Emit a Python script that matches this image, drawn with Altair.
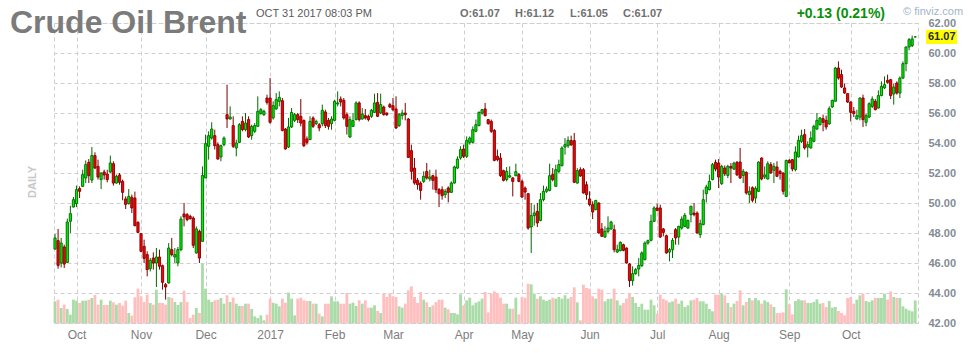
import json
import altair as alt
import pandas as pd

# ---------------- data ----------------
opens = [46.93, 47.49, 46.00, 47.07, 46.04, 48.78, 49.73, 49.96, 50.96, 51.11,
         51.67, 52.71, 51.53, 53.16, 52.44, 51.56, 52.07, 51.93, 52.07, 52.62,
         51.33, 51.87, 51.44, 50.27, 49.96, 50.38, 50.33, 48.71, 47.96, 47.11,
         46.56, 45.62, 46.33, 46.00, 46.40, 45.82, 44.56, 44.67, 46.89, 46.40,
         46.00, 46.89, 49.27, 49.22, 49.11, 49.00, 46.67, 48.11, 47.44, 51.67,
         53.78, 54.33, 54.49, 53.89, 53.07, 53.89, 55.89, 55.60, 55.16, 53.67,
         54.04, 55.44, 54.89, 55.56, 54.49, 54.78, 55.11, 55.96, 55.89, 57.00,
         57.00, 55.67, 56.27, 56.78, 56.82, 54.93, 53.73, 55.07, 55.51, 55.89,
         55.78, 55.51, 54.27, 54.22, 55.67, 55.29, 55.22, 55.29, 56.07, 55.51,
         55.29, 55.51, 56.60, 56.93, 56.84, 55.89, 54.40, 55.11, 55.56, 56.67,
         55.60, 55.82, 55.78, 55.78, 56.04, 56.71, 56.00, 56.40, 56.00, 56.56,
         56.49, 56.27, 55.16, 55.84, 56.00, 55.60, 53.49, 52.33, 51.51, 51.33,
         51.44, 52.11, 51.60, 51.82, 51.73, 50.89, 50.89, 50.56, 51.00, 50.71,
         51.33, 52.33, 53.00, 53.60, 53.11, 54.04, 54.04, 54.78, 55.16, 56.00,
         56.27, 55.56, 55.44, 54.84, 53.11, 53.00, 52.16, 51.56, 51.73, 51.67,
         51.82, 51.89, 51.44, 51.00, 50.62, 48.40, 49.16, 49.44, 48.84, 50.22,
         50.78, 50.84, 51.89, 51.11, 52.11, 52.49, 53.73, 53.82, 54.16, 54.16,
         51.33, 52.22, 52.22, 51.22, 50.27, 49.89, 49.56, 50.00, 48.27, 47.73,
         48.11, 48.27, 48.22, 46.73, 46.82, 47.22, 47.00, 45.93, 44.82, 45.29,
         45.60, 45.82, 46.22, 47.33, 47.51, 48.78, 49.67, 49.67, 48.27, 47.82,
         46.73, 46.89, 48.22, 47.73, 48.33, 48.44, 48.33, 49.22, 49.33, 49.33,
         47.89, 48.56, 50.62, 50.89, 51.56, 52.71, 52.67, 51.29, 52.33, 51.84,
         52.44, 52.26, 52.71, 52.73, 51.84, 52.04, 50.56, 51.02, 50.33, 50.78,
         53.00, 51.73, 51.60, 52.56, 52.18, 52.40, 52.11, 52.00, 50.44, 52.84,
         52.89, 52.22, 53.07, 54.11, 54.56, 53.73, 53.67, 54.11, 54.93, 55.22,
         55.62, 55.51, 55.27, 56.40, 56.78, 59.00, 58.56, 57.67, 57.29, 56.73,
         56.11, 55.60, 55.73, 57.00, 55.38, 55.73, 56.44, 56.78, 56.33, 57.16,
         57.67, 58.18, 58.22, 57.27, 58.00, 57.33, 58.33, 59.29, 60.40, 60.49,
         61.07]
highs = [47.93, 48.27, 47.67, 47.22, 48.96, 49.82, 50.40, 51.16, 51.11, 52.22,
         52.84, 52.93, 53.73, 53.38, 52.89, 52.04, 52.22, 52.22, 53.16, 52.78,
         51.89, 52.00, 51.56, 50.44, 50.93, 50.56, 50.76, 48.78, 48.00, 47.56,
         46.78, 46.33, 46.71, 47.00, 46.89, 45.89, 44.67, 47.33, 47.67, 47.00,
         47.07, 49.11, 50.00, 49.33, 49.22, 49.11, 48.44, 48.22, 52.44, 54.56,
         54.78, 55.38, 54.89, 54.04, 53.89, 54.44, 57.89, 56.44, 55.78, 54.22,
         55.33, 55.78, 56.00, 55.78, 55.22, 55.33, 57.11, 56.33, 56.22, 57.22,
         58.33, 56.78, 57.33, 57.44, 57.00, 55.00, 55.67, 56.33, 56.00, 56.00,
         56.93, 55.56, 54.44, 55.78, 55.78, 55.56, 55.33, 56.56, 56.22, 55.67,
         55.78, 56.89, 57.44, 57.11, 57.00, 56.04, 55.78, 56.00, 56.78, 56.78,
         56.33, 56.27, 55.89, 56.27, 57.29, 57.33, 57.29, 56.49, 56.04, 56.67,
         57.00, 57.11, 56.00, 56.22, 56.67, 55.67, 53.89, 53.00, 51.67, 51.44,
         52.11, 52.67, 52.22, 51.89, 52.22, 51.00, 51.11, 50.93, 51.11, 51.44,
         52.49, 53.11, 53.78, 53.89, 54.44, 54.44, 55.11, 55.56, 56.11, 56.27,
         56.67, 55.60, 55.56, 54.93, 53.56, 53.33, 52.22, 52.40, 52.44, 51.73,
         52.62, 52.00, 51.56, 51.11, 50.67, 50.00, 49.89, 50.00, 50.67, 51.16,
         51.11, 52.62, 52.33, 52.56, 52.89, 53.78, 54.33, 54.44, 54.49, 54.67,
         52.33, 52.38, 52.33, 51.44, 50.78, 50.11, 50.22, 50.04, 48.67, 48.44,
         49.11, 48.82, 48.56, 47.22, 47.44, 47.29, 47.04, 46.00, 45.78, 45.67,
         46.33, 46.78, 47.44, 47.56, 49.22, 49.78, 49.96, 49.89, 48.33, 47.89,
         47.00, 47.67, 48.33, 48.49, 49.11, 49.33, 48.89, 49.82, 50.00, 49.44,
         48.89, 50.89, 51.22, 51.89, 52.67, 52.89, 52.93, 52.55, 52.50, 52.55,
         52.66, 52.75, 52.80, 53.67, 52.27, 52.11, 51.11, 51.11, 51.11, 52.78,
         53.04, 52.44, 52.78, 52.73, 52.67, 52.78, 52.22, 52.04, 52.89, 52.93,
         52.93, 53.78, 54.49, 54.89, 54.93, 54.11, 54.78, 55.22, 56.00, 55.73,
         55.89, 55.82, 56.44, 56.89, 59.07, 59.44, 58.89, 57.96, 57.33, 56.78,
         56.40, 56.22, 57.04, 57.22, 55.96, 56.71, 57.11, 56.93, 57.51, 58.11,
         58.44, 58.56, 58.27, 57.96, 58.11, 58.44, 59.44, 60.44, 61.00, 61.16,
         61.12]
lows = [46.89, 45.62, 45.71, 45.67, 46.00, 48.00, 49.71, 49.73, 50.33, 51.07,
        51.33, 51.33, 51.33, 52.27, 51.56, 50.93, 51.56, 51.38, 52.00, 51.16,
        51.29, 51.22, 50.18, 49.60, 49.89, 49.33, 48.44, 48.00, 46.71, 46.00,
        45.11, 45.44, 45.56, 44.40, 45.56, 44.22, 43.56, 44.62, 46.44, 46.00,
        45.78, 46.78, 48.44, 48.78, 48.89, 47.00, 46.62, 46.00, 47.44, 51.67,
        52.89, 54.22, 53.56, 52.89, 52.78, 53.78, 55.00, 55.56, 53.67, 53.11,
        54.00, 54.78, 54.78, 54.33, 54.22, 54.67, 55.11, 55.89, 55.80, 56.56,
        55.29, 55.56, 56.22, 56.44, 54.78, 53.56, 53.67, 55.00, 55.40, 55.33,
        55.11, 53.73, 53.89, 54.22, 55.00, 55.20, 54.78, 55.11, 55.00, 54.89,
        54.89, 55.44, 56.44, 56.44, 55.56, 54.56, 54.33, 55.07, 55.51, 55.44,
        55.56, 55.56, 55.44, 55.67, 56.00, 55.73, 55.93, 55.82, 55.80, 56.33,
        56.11, 54.93, 55.07, 55.56, 55.51, 53.00, 51.56, 51.22, 50.89, 50.22,
        51.33, 51.56, 51.44, 50.89, 50.67, 49.73, 50.22, 50.33, 50.04, 50.67,
        51.29, 52.27, 52.89, 53.00, 53.00, 53.89, 53.96, 54.71, 55.11, 55.89,
        55.78, 55.22, 54.67, 52.78, 52.78, 51.73, 51.44, 51.44, 51.67, 50.44,
        51.78, 51.38, 50.33, 50.22, 48.22, 46.67, 48.49, 48.40, 48.78, 50.11,
        50.67, 50.78, 51.44, 51.07, 52.00, 52.44, 53.22, 53.67, 53.82, 51.33,
        51.29, 51.75, 50.62, 50.22, 49.78, 48.93, 49.51, 47.96, 47.73, 47.67,
        48.00, 48.22, 46.71, 46.67, 46.78, 46.78, 45.96, 44.40, 44.49, 45.22,
        45.11, 45.73, 46.18, 47.22, 47.44, 48.73, 49.44, 47.67, 47.78, 46.62,
        46.11, 46.33, 47.22, 47.22, 48.22, 48.40, 48.27, 48.71, 49.11, 47.96,
        47.67, 48.51, 50.04, 50.84, 51.51, 52.11, 51.00, 51.20, 51.80, 51.66,
        51.33, 52.20, 51.80, 51.60, 51.33, 50.56, 50.00, 50.04, 50.00, 50.73,
        51.51, 51.60, 51.56, 51.96, 51.33, 51.73, 51.56, 50.56, 50.40, 52.67,
        52.11, 52.11, 53.04, 54.00, 53.56, 53.04, 53.62, 54.04, 54.89, 55.16,
        54.78, 54.89, 55.22, 56.33, 56.78, 58.22, 57.67, 57.29, 56.67, 55.44,
        55.73, 55.56, 55.51, 55.07, 55.11, 55.67, 56.33, 56.18, 56.29, 57.11,
        57.60, 57.96, 56.93, 56.56, 57.22, 57.00, 58.27, 58.78, 60.18, 60.40,
        61.05]
closes = [47.67, 45.84, 47.33, 45.93, 48.73, 49.29, 50.22, 50.89, 50.78, 51.89,
          52.56, 51.82, 53.16, 52.33, 51.73, 52.00, 51.87, 51.56, 52.67, 51.33,
          51.78, 51.38, 50.71, 49.91, 50.44, 49.67, 48.49, 48.04, 46.78, 46.31,
          45.56, 46.18, 46.00, 46.40, 45.78, 44.71, 44.40, 47.00, 46.56, 46.56,
          46.89, 48.93, 49.07, 48.89, 48.96, 47.18, 48.27, 46.33, 51.84, 53.96,
          54.49, 54.93, 53.82, 52.93, 53.82, 54.33, 55.60, 55.73, 53.78, 54.00,
          55.22, 54.89, 55.33, 54.40, 55.11, 55.16, 56.11, 56.22, 56.11, 56.71,
          55.38, 56.49, 56.89, 57.04, 54.84, 53.60, 55.07, 56.04, 55.89, 55.56,
          55.33, 53.82, 54.04, 55.44, 55.11, 55.44, 55.00, 56.18, 55.16, 55.11,
          55.60, 56.78, 56.67, 56.73, 55.67, 55.11, 55.56, 55.49, 56.67, 55.56,
          55.93, 55.67, 55.56, 56.18, 56.67, 55.78, 56.56, 55.89, 55.89, 56.40,
          56.22, 55.00, 55.89, 56.00, 55.89, 53.04, 52.11, 51.33, 51.22, 50.84,
          51.78, 51.67, 51.73, 51.51, 50.89, 50.62, 50.49, 50.78, 50.71, 51.33,
          52.40, 52.93, 53.56, 53.11, 54.18, 54.33, 54.89, 55.22, 56.04, 56.22,
          55.82, 55.29, 54.78, 52.84, 52.89, 51.82, 51.51, 52.11, 51.82, 51.44,
          52.09, 51.44, 50.40, 50.73, 48.33, 49.16, 49.33, 48.67, 50.22, 50.78,
          50.93, 51.82, 51.56, 52.22, 52.56, 53.67, 53.89, 54.18, 53.87, 51.38,
          52.16, 51.80, 50.67, 50.56, 49.89, 49.40, 50.16, 48.00, 47.78, 48.11,
          48.33, 48.73, 46.89, 46.89, 47.38, 46.84, 46.00, 44.82, 45.29, 45.56,
          45.84, 46.67, 47.33, 47.49, 48.78, 49.67, 49.51, 47.73, 48.04, 46.67,
          46.89, 47.51, 47.67, 48.44, 48.93, 49.18, 48.84, 49.78, 49.22, 48.00,
          48.62, 50.22, 51.07, 51.44, 52.56, 52.26, 51.73, 52.44, 51.95, 52.44,
          52.33, 52.66, 51.88, 51.67, 52.11, 50.67, 50.78, 50.18, 50.98, 52.73,
          51.60, 51.87, 52.62, 52.00, 52.44, 51.78, 51.96, 50.78, 52.84, 52.67,
          52.27, 53.40, 54.18, 54.49, 53.67, 53.89, 54.33, 55.11, 55.51, 55.67,
          55.38, 55.07, 56.29, 56.84, 59.00, 58.33, 57.73, 57.33, 56.73, 56.04,
          55.96, 55.82, 57.00, 55.56, 55.82, 56.62, 56.93, 56.22, 57.16, 57.78,
          57.89, 58.04, 57.16, 57.73, 57.33, 58.33, 59.29, 60.40, 60.89, 60.94,
          61.07]
volumes = [65, 70, 45, 55, 42, 25, 70, 67, 60, 67,
           67, 70, 75, 84, 55, 70, 54, 54, 67, 62,
           55, 60, 52, 67, 30, 22, 77, 103, 80, 63,
           85, 60, 55, 100, 60, 60, 55, 78, 75, 63,
           54, 63, 97, 63, 15, 25, 45, 30, 178, 103,
           70, 63, 68, 70, 75, 58, 83, 63, 76, 58,
           51, 51, 58, 58, 42, 20, 15, 23, 8, 25,
           73, 61, 58, 50, 73, 61, 91, 73, 23, 73,
           76, 68, 66, 66, 58, 58, 28, 20, 58, 58,
           80, 65, 65, 58, 58, 90, 58, 61, 51, 68,
           58, 68, 46, 46, 53, 36, 30, 88, 78, 90,
           80, 78, 50, 46, 58, 98, 110, 78, 60, 93,
           70, 62, 48, 53, 63, 70, 70, 46, 41, 30,
           30, 26, 86, 53, 68, 76, 53, 61, 65, 73,
           93, 32, 88, 95, 90, 76, 58, 58, 43, 43,
           76, 26, 78, 76, 118, 116, 88, 73, 80, 70,
           66, 70, 76, 73, 78, 73, 83, 73, 78, 107,
           62, 8, 115, 105, 103, 80, 73, 103, 100, 65,
           72, 73, 103, 68, 53, 60, 73, 90, 78, 60,
           48, 58, 40, 40, 70, 53, 28, 85, 72, 68,
           62, 65, 73, 58, 67, 48, 53, 68, 70, 75,
           65, 65, 58, 42, 35, 85, 85, 88, 83, 60,
           48, 58, 66, 98, 53, 63, 75, 68, 75, 68,
           58, 68, 63, 56, 48, 30, 30, 32, 101, 56,
           26, 66, 71, 68, 68, 60, 60, 63, 71, 58,
           60, 48, 66, 46, 48, 36, 30, 23, 75, 78,
           58, 70, 83, 88, 66, 63, 68, 75, 75, 75,
           88, 70, 95, 78, 75, 75, 50, 43, 38, 35,
           68]

holidays = ["2016-11-24", "2016-12-26", "2017-01-02", "2017-02-20",
            "2017-04-14", "2017-05-29", "2017-07-04", "2017-09-04"]
month_labels = ["Oct", "Nov", "Dec", "2017", "Feb", "Mar", "Apr", "May",
                "Jun", "Jul", "Aug", "Sep", "Oct"]
price_ticks = [42, 44, 46, 48, 50, 52, 54, 56, 58, 60, 62]
chart_title = "Crude Oil Brent"
quote_time = "OCT 31 2017 08:03 PM"
period_label = "DAILY"
brand = "\u00a9 finviz.com"

# ---------------- table ----------------
n = len(closes)
days = [d for d in pd.bdate_range("2016-09-22", "2017-10-31")
        if d.strftime("%Y-%m-%d") not in holidays][:n]
month_idx = [i for i in range(1, n) if days[i].month != days[i - 1].month]

df = pd.DataFrame({
    "idx": list(range(n)),
    "date": [d.strftime("%Y-%m-%d") for d in days],
    "open": opens, "high": highs, "low": lows, "close": closes,
    "volume": volumes[:n],
})

FONT = "Liberation Sans"
GRID = "#cfcfcf"
UP = "datum.close >= datum.open"

x_scale = alt.Scale(domain=[-0.33, 280.9], nice=False, zero=False)
price_scale = alt.Scale(domain=[42, 62], nice=False, zero=False)
label_expr = f"{json.dumps(month_labels)}[indexof({json.dumps(month_idx)}, datum.value)]"

x_axis = alt.Axis(values=month_idx, labelExpr=label_expr, grid=True, gridColor=GRID,
                  gridDash=[4, 3], domain=False, ticks=False, tickSize=0,
                  labelFontSize=12, labelColor="#7d7d7d", labelFont=FONT,
                  labelPadding=6, title=None, labelOverlap=False, labelFlush=False)
y_axis = alt.Axis(orient="right", values=price_ticks, format=".2f", grid=True,
                  gridColor=GRID, gridDash=[4, 3], domain=False, ticks=False,
                  tickSize=0, labelFontSize=11, labelFontWeight="bold",
                  labelColor="#838b96", labelFont=FONT, labelPadding=10, title=None,
                  labelOverlap=False, labelFlush=False)

base = alt.Chart(df)

volume = base.transform_calculate(
    v_lo="datum.idx - 0.46", v_hi="datum.idx + 0.46", zero="0"
).mark_rect().encode(
    x=alt.X("v_lo:Q", scale=x_scale, axis=x_axis),
    x2="v_hi:Q",
    y=alt.Y("volume:Q", scale=alt.Scale(domain=[0, 900], nice=False), axis=None),
    y2="zero:Q",
    fill=alt.condition(UP, alt.value("#aadca8"), alt.value("#ffbfbf")),
)

wicks = base.mark_rule(strokeWidth=1).encode(
    x=alt.X("idx:Q", scale=x_scale, axis=x_axis),
    y=alt.Y("low:Q", scale=price_scale, axis=y_axis),
    y2="high:Q",
    color=alt.condition(UP, alt.value("#006b00"), alt.value("#7a0000")),
)

bodies = base.transform_calculate(
    b_lo="datum.idx - 0.36", b_hi="datum.idx + 0.36"
).mark_rect(strokeWidth=0.9).encode(
    x=alt.X("b_lo:Q", scale=x_scale, axis=x_axis),
    x2="b_hi:Q",
    y=alt.Y("open:Q", scale=price_scale, axis=y_axis),
    y2="close:Q",
    fill=alt.condition(UP, alt.value("#00ee00"), alt.value("#ff0000")),
    stroke=alt.condition(UP, alt.value("#006800"), alt.value("#800000")),
)

last = base.transform_filter(f"datum.idx == {n - 1}")
last_box = last.transform_calculate(
    lo="datum.close - 0.47", hi="datum.close + 0.47"
).mark_rect(fill="#ffff00").encode(
    x=alt.value(872), x2=alt.value(903),
    y=alt.Y("lo:Q", scale=price_scale, axis=y_axis), y2="hi:Q",
)
last_text = last.mark_text(font=FONT, fontSize=11, fontWeight="bold", color="#2b2b2b",
                           align="left", baseline="middle").encode(
    x=alt.value(874), y=alt.Y("close:Q", scale=price_scale, axis=y_axis),
    text=alt.Text("close:Q", format=".2f"),
)

price = alt.layer(wicks, bodies, last_box, last_text)


def label(text, x, y, **kw):
    opts = dict(align="left", baseline="alphabetic", font=FONT)
    opts.update(kw)
    return alt.Chart(pd.DataFrame({"t": [text]})).mark_text(**opts).encode(
        x=alt.value(x), y=alt.value(y), text="t:N")


change = closes[-1] - closes[-2]
pct = change / closes[-2] * 100

texts = [
    label(chart_title, -44, 10, fontSize=32, fontWeight="bold", color="#7b7b7b"),
    label(quote_time, 202, -6, fontSize=11, color="#5a5a5a"),
    label(f"O:{opens[-1]:.2f}", 406, -6, fontSize=11, fontWeight="bold", color="#707070"),
    label(f"H:{highs[-1]:.2f}", 461, -6, fontSize=11, fontWeight="bold", color="#707070"),
    label(f"L:{lows[-1]:.2f}", 516, -6, fontSize=11, fontWeight="bold", color="#707070"),
    label(f"C:{closes[-1]:.2f}", 569, -6, fontSize=11, fontWeight="bold", color="#707070"),
    label(f"{change:+.2f} ({pct:.2f}%)", 831, -5, align="right", fontSize=14,
          fontWeight="bold", color="#0a8f0a"),
    label(brand, 849, -8, fontSize=11, color="#a2b5c9"),
    label(period_label, -21, 159, angle=270, align="center", baseline="middle",
          fontSize=11, fontWeight="bold", color="#c8c8c8"),
]

chart = alt.layer(volume, price, *texts).resolve_scale(y="independent").properties(
    width=864, height=300,
    padding={"left": 54, "top": 23, "right": 55, "bottom": 30},
    autosize=alt.AutoSizeParams(type="none"),
    background="white",
).configure_view(stroke=GRID, strokeDash=[4, 3], strokeWidth=1)

chart.save("out.html", embed_options={"renderer": "svg", "actions": False})
